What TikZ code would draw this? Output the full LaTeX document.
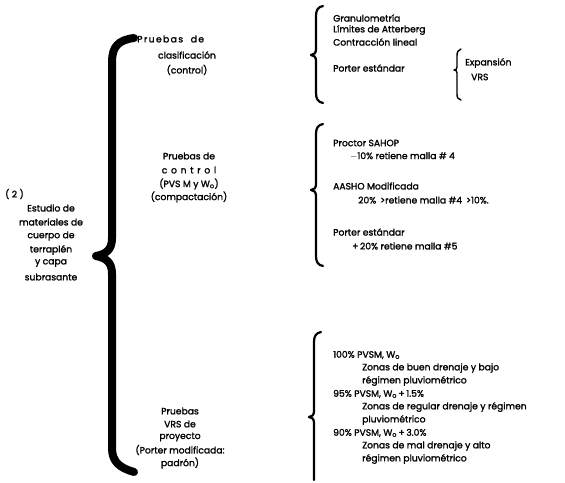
\documentclass[tikz,border=0pt]{standalone}
\usepackage{fontspec}
\setmainfont{Poppins}[FakeBold=1.6]
\tikzset{
  txt/.style={inner sep=0pt,font=\fontsize{9.2}{11}\selectfont},
  item/.style={txt,anchor=west},
  cent/.style={txt,anchor=center},
  llave/.style={line width=2.2pt,line cap=round,line join=round},
  llavemayor/.style={line width=8pt,line cap=round,line join=round}
}
\begin{document}
\begin{tikzpicture}[x=1pt,y=-1pt]
        \useasboundingbox (0,0) rectangle (565,482);
        % llave mayor
        \draw[llavemayor] (134,38) .. controls (118,40) and (112,47) .. (112,62) -- (112,238) .. controls (112,250) and (106,254) .. (96,256) .. controls (106,258) and (112,262) .. (112,274) -- (112,448) .. controls (112,462) and (120,468) .. (134,472);
        % llaves de la derecha
        \draw[llave] (323,6) .. controls (318,7) and (316,10) .. (316,16) -- (316,49) .. controls (316,53) and (314,55) .. (311,55) .. controls (314,55) and (316,57) .. (316,61) -- (316,93) .. controls (316,99) and (318,102) .. (323,103);
        \draw[llave,line width=1.4pt] (461,49) .. controls (458,50) and (457,52) .. (457,56) -- (457,67) .. controls (457,69) and (456,70) .. (454,70) .. controls (456,70) and (457,71) .. (457,73) -- (457,94) .. controls (457,98) and (458,99) .. (461,100);
        \draw[llave] (323,124) .. controls (318,125) and (316,128) .. (316,134) -- (316,184) .. controls (316,188) and (314,190) .. (311,190) .. controls (314,190) and (316,192) .. (316,196) -- (316,256) .. controls (316,262) and (318,265) .. (323,266);
        \draw[llave] (321,332) .. controls (316,333) and (314,336) .. (314,342) -- (314,411) .. controls (314,415) and (312,417) .. (309,417) .. controls (312,417) and (314,419) .. (314,423) -- (314,480);
        % izquierda
        \node[item] (num) at (5,194) {( 2 )};
        \node[cent] (est1) at (51,208) {Estudio de};
        \node[cent] (est2) at (51,222) {materiales de};
        \node[cent] (est3) at (51,236) {cuerpo de};
        \node[cent] (est4) at (51,250) {terraplén};
        \node[cent] (est5) at (51,263) {y capa};
        \node[cent] (est6) at (51,277) {subrasante};
        % pruebas
        \node[item] (clas1) at (137,39) {\addfontfeature{LetterSpace=15}Pruebas\ \ de};
        \node[cent] (clas2) at (187,55) {clasificación};
        \node[cent] (clas3) at (187,70) {(control)};
        \node[cent] (ctrl1) at (189,156) {Pruebas de};
        \node[cent] (ctrl2) at (189,170) {\addfontfeature{LetterSpace=40}control};
        \node[cent] (ctrl3) at (189,184) {(PVS M y W$_\mathrm{o}$)};
        \node[cent] (ctrl4) at (189,197) {(compactación)};
        \node[cent] (proy1) at (180,411) {Pruebas};
        \node[cent] (proy2) at (180,424) {VRS de};
        \node[cent] (proy3) at (180,437) {proyecto};
        \node[cent] (proy4) at (180,450) {(Porter modificada:};
        \node[cent] (proy5) at (180,463) {padrón)};
        % clasificacion
        \node[item] (gran) at (333,18) {Granulometría};
        \node[item] (atter) at (333,30) {Límites de Atterberg};
        \node[item] (contr) at (333,42) {Contracción lineal};
        \node[item] (port1) at (333,68) {Porter estándar};
        \node[item] (expa) at (465,63) {Expansión};
        \node[item] (vrs) at (471,77) {VRS};
        % control
        \node[item] (sahop) at (333,143) {Proctor SAHOP};
        \node[item] (sahopb) at (350,156) {$-$10\% retiene malla \# 4};
        \node[item] (aasho) at (333,186) {AASHO Modificada};
        \node[item] (aashob) at (358,200) {20\% \,>retiene malla \#4 \,>10\%.};
        \node[item] (port2) at (333,232) {Porter estándar};
        \node[item] (port2b) at (352,246) {+\,20\% retiene malla \#5};
        % proyecto
        \node[item] (p100) at (333,355) {100\% PVSM, W$_\mathrm{o}$};
        \node[item] (p100a) at (362,368) {Zonas de buen drenaje y bajo};
        \node[item] (p100b) at (362,381) {régimen pluviométrico};
        \node[item] (p95) at (333,394) {95\% PVSM, W$_\mathrm{o}$\,+\,1.5\%};
        \node[item] (p95a) at (362,407) {Zonas de regular drenaje y régimen};
        \node[item] (p95b) at (362,420) {pluviométrico};
        \node[item] (p90) at (333,433) {90\% PVSM, W$_\mathrm{o}$\,+\,3.0\%};
        \node[item] (p90a) at (362,446) {Zonas de mal drenaje y alto};
        \node[item] (p90b) at (362,459) {régimen pluviométrico};
\end{tikzpicture}
\end{document}
